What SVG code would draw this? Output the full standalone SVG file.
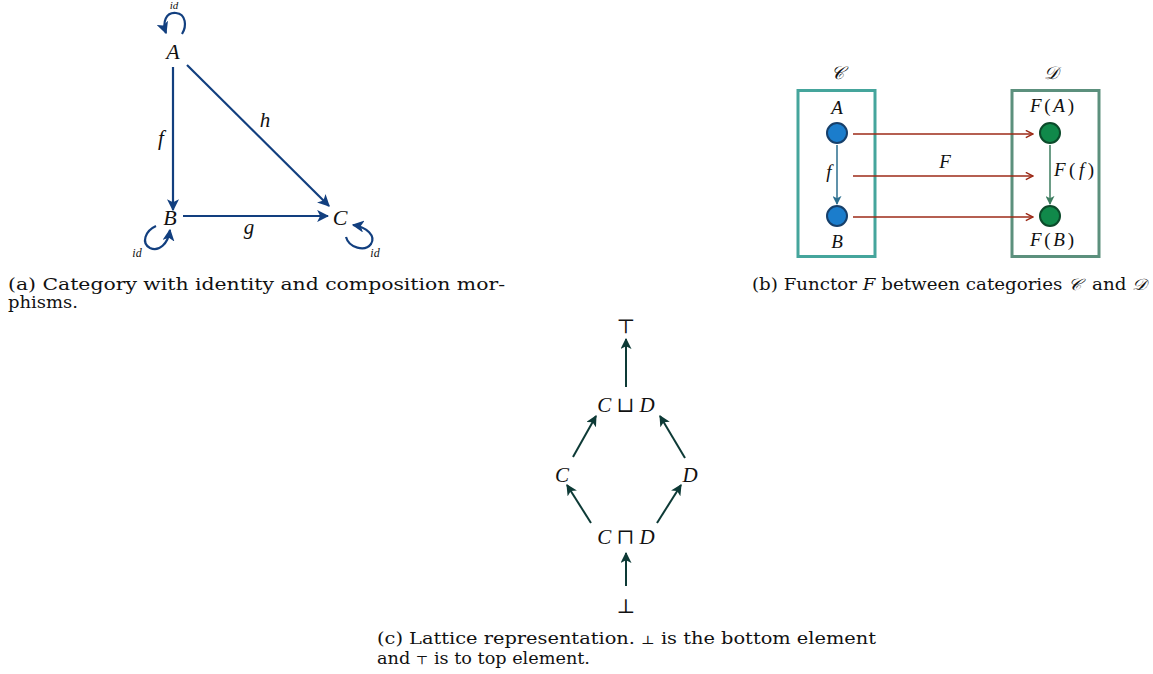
<svg xmlns="http://www.w3.org/2000/svg" width="1153" height="674" viewBox="0 0 1153 674">
<style>
text{font-family:"Liberation Serif","DejaVu Serif",serif;fill:#111}
.m{font-style:italic}
.cap{font-family:"DejaVu Serif","Liberation Serif",serif;font-size:16px}
.a{stroke:#123f7f;stroke-width:2.2;fill:none}
.bl{stroke:#2b6e8e;stroke-width:1.5;fill:none}
.gl{stroke:#3d7d5f;stroke-width:1.5;fill:none}
.r{stroke:#9c2a17;stroke-width:1.5;fill:none}
.l{stroke:#0d3a36;stroke-width:2;fill:none}
</style>
<defs>
<marker id="ha" viewBox="0 0 10 10" refX="9" refY="5" markerWidth="5.5" markerHeight="5.5" markerUnits="strokeWidth" orient="auto"><path d="M0,0 L10,5 L0,10 L2.5,5 Z" fill="#123f7f"/></marker>
<marker id="hb" viewBox="0 0 10 10" refX="9" refY="5" markerWidth="6" markerHeight="6" markerUnits="strokeWidth" orient="auto"><path d="M0,0 L10,5 L0,10 L2.5,5 Z" fill="#2b6e8e"/></marker>
<marker id="hg" viewBox="0 0 10 10" refX="9" refY="5" markerWidth="6" markerHeight="6" markerUnits="strokeWidth" orient="auto"><path d="M0,0 L10,5 L0,10 L2.5,5 Z" fill="#3d7d5f"/></marker>
<marker id="hr" viewBox="0 0 10 10" refX="9" refY="5" markerWidth="6" markerHeight="6" markerUnits="strokeWidth" orient="auto"><path d="M1,1 L9,5 L1,9" fill="none" stroke="#9c2a17" stroke-width="1.6"/></marker>
<marker id="hl" viewBox="0 0 10 10" refX="9" refY="5" markerWidth="5.5" markerHeight="5.5" markerUnits="strokeWidth" orient="auto"><path d="M0,0 L10,5 L0,10 L2.5,5 Z" fill="#0d3a36"/></marker>
</defs>

<!-- Panel (a) -->
<g id="a-A"><text class="m" x="173" y="59" font-size="22" text-anchor="middle">A</text></g>
<g id="a-B"><text class="m" x="170" y="225" font-size="22" text-anchor="middle">B</text></g>
<g id="a-C"><text class="m" x="340" y="225" font-size="22" text-anchor="middle">C</text></g>
<g id="a-connectors">
<line class="a" x1="173" y1="67" x2="173" y2="210" marker-end="url(#ha)"/>
<line class="a" x1="187" y1="65" x2="329" y2="206" marker-end="url(#ha)"/>
<line class="a" x1="183" y1="216" x2="328" y2="216" marker-end="url(#ha)"/>
<path class="a" d="M182,34 C187,26 186,14 176,13 C166,12 162,22 166,33" marker-end="url(#ha)"/>
<path class="a" d="M156,226 C145,231 141,243 150,248 C159,252 168,244 170,230" marker-end="url(#ha)"/>
<path class="a" d="M346,237 C349,248 365,252 371,244 C376,236 367,227 353,225" marker-end="url(#ha)"/>
<text class="m" x="161" y="145" font-size="21" text-anchor="middle">f</text>
<text class="m" x="265" y="127" font-size="21" text-anchor="middle">h</text>
<text class="m" x="249" y="234" font-size="21" text-anchor="middle">g</text>
<text class="m" x="174" y="9" font-size="11" text-anchor="middle">id</text>
<text class="m" x="137" y="257" font-size="12" text-anchor="middle">id</text>
<text class="m" x="375" y="257" font-size="12" text-anchor="middle">id</text>
</g>
<text class="cap" x="8" y="290" textLength="497" lengthAdjust="spacingAndGlyphs">(a) Category with identity and composition mor-</text>
<text class="cap" x="8" y="308" textLength="70" lengthAdjust="spacingAndGlyphs">phisms.</text>

<!-- Panel (b) -->
<g id="b-catC">
<rect x="798" y="90.5" width="77" height="166" fill="none" stroke="#45a59c" stroke-width="3"/>
<text class="m" x="837" y="79" font-size="18" text-anchor="middle">𝒞</text>
</g>
<g id="b-catD">
<rect x="1012" y="90.5" width="87" height="166" fill="none" stroke="#5c907d" stroke-width="3"/>
<text class="m" x="1051" y="79" font-size="18" text-anchor="middle">𝒟</text>
</g>
<g id="b-A"><circle cx="837" cy="133" r="10" fill="#1b7dcc" stroke="#163f6a" stroke-width="2"/><text class="m" x="837" y="114" font-size="19" text-anchor="middle">A</text></g>
<g id="b-B"><circle cx="837" cy="216" r="10" fill="#1b7dcc" stroke="#163f6a" stroke-width="2"/><text class="m" x="837" y="248" font-size="19" text-anchor="middle">B</text></g>
<g id="b-FA"><circle cx="1050" cy="133" r="10" fill="#10894a" stroke="#0b4a2a" stroke-width="2"/><text x="1052" y="112" font-size="19" text-anchor="middle" textLength="44" lengthAdjust="spacing"><tspan class="m">F</tspan>(<tspan class="m">A</tspan>)</text></g>
<g id="b-FB"><circle cx="1050" cy="216" r="10" fill="#10894a" stroke="#0b4a2a" stroke-width="2"/><text x="1052" y="246" font-size="19" text-anchor="middle" textLength="44" lengthAdjust="spacing"><tspan class="m">F</tspan>(<tspan class="m">B</tspan>)</text></g>
<g id="b-connectors">
<line class="bl" x1="837" y1="145" x2="837" y2="204" marker-end="url(#hb)"/>
<line class="gl" x1="1050" y1="145" x2="1050" y2="204" marker-end="url(#hg)"/>
<line class="r" x1="853" y1="134" x2="1033" y2="134" marker-end="url(#hr)"/>
<line class="r" x1="853" y1="176" x2="1033" y2="176" marker-end="url(#hr)"/>
<line class="r" x1="853" y1="217" x2="1033" y2="217" marker-end="url(#hr)"/>
<text class="m" x="829" y="178" font-size="19" text-anchor="middle">f</text>
<text class="m" x="945" y="168" font-size="19" text-anchor="middle">F</text>
<text x="1074" y="176" font-size="19" text-anchor="middle" textLength="40" lengthAdjust="spacing"><tspan class="m">F</tspan>(<tspan class="m">f</tspan>)</text>
</g>
<text class="cap" x="752" y="290" textLength="395" lengthAdjust="spacingAndGlyphs">(b) Functor <tspan class="m">F</tspan> between categories <tspan class="m">𝒞</tspan><tspan dx="9">and</tspan> <tspan class="m">𝒟</tspan></text>

<!-- Panel (c) -->
<g id="c-top"><text x="626" y="333" font-size="20" text-anchor="middle">⊤</text></g>
<g id="c-join"><text x="626" y="412" font-size="21" text-anchor="middle"><tspan class="m">C</tspan> ⊔ <tspan class="m">D</tspan></text></g>
<g id="c-C"><text class="m" x="562" y="482" font-size="21" text-anchor="middle">C</text></g>
<g id="c-D"><text class="m" x="690" y="482" font-size="21" text-anchor="middle">D</text></g>
<g id="c-meet"><text x="626" y="544" font-size="21" text-anchor="middle"><tspan class="m">C</tspan> ⊓ <tspan class="m">D</tspan></text></g>
<g id="c-bot"><text x="626" y="613" font-size="20" text-anchor="middle">⊥</text></g>
<g id="c-connectors">
<line class="l" x1="626" y1="387" x2="626" y2="339" marker-end="url(#hl)"/>
<line class="l" x1="573" y1="457" x2="596" y2="416" marker-end="url(#hl)"/>
<line class="l" x1="685" y1="458" x2="660" y2="416" marker-end="url(#hl)"/>
<line class="l" x1="591" y1="523" x2="567" y2="485" marker-end="url(#hl)"/>
<line class="l" x1="657" y1="523" x2="681" y2="485" marker-end="url(#hl)"/>
<line class="l" x1="626" y1="586" x2="626" y2="553" marker-end="url(#hl)"/>
</g>
<text class="cap" x="377" y="644" textLength="499" lengthAdjust="spacingAndGlyphs">(c) Lattice representation. <tspan font-size="12">⊥</tspan> is the bottom element</text>
<text class="cap" x="377" y="664" textLength="213" lengthAdjust="spacingAndGlyphs">and <tspan font-size="12">⊤</tspan> is to top element.</text>
</svg>
